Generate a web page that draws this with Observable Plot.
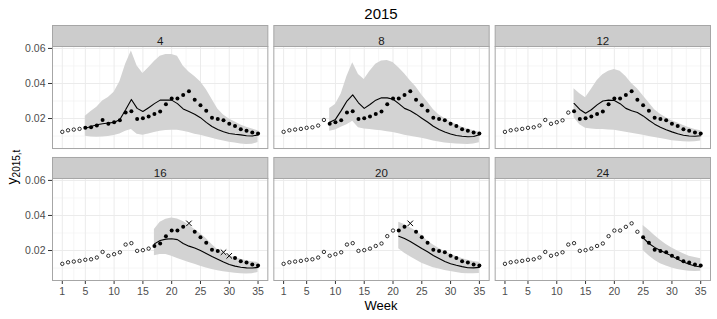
<!DOCTYPE html>
<html><head><meta charset="utf-8">
<script src="https://cdn.jsdelivr.net/npm/d3@7"></script>
<script src="https://cdn.jsdelivr.net/npm/@observablehq/plot@0.6"></script>
<style>
body{margin:0;background:#fff;font-family:"Liberation Sans",Arial,sans-serif;}
#title{height:24px;width:717px;box-sizing:border-box;padding-left:52px;padding-right:7px;text-align:center;font-size:15px;line-height:27px;color:#000;overflow:visible}
#chart svg{display:block}
</style></head><body>
<div id="title">2015</div>
<div id="chart"></div>
<script>
// ---- data ----
const weeks = [1,2,3,4,5,6,7,8,9,10,11,12,13,14,15,16,17,18,19,20,21,22,23,24,25,26,27,28,29,30,31,32,33,34,35];
const facetWeeks = [4,8,12,16,20,24];
const observed = [0.0124,0.0133,0.0137,0.0141,0.0147,0.0150,0.0160,0.0192,0.0170,0.0179,0.0190,0.0234,0.0242,0.0198,0.0202,0.0211,0.0226,0.0240,0.0282,0.0314,0.0314,0.0335,0.0355,0.0307,0.0276,0.0244,0.0204,0.0198,0.0190,0.0170,0.0158,0.0139,0.0131,0.0120,0.0114];

// forecasts: weeks (facet week + 1) .. 35
const med04 = [0.0145,0.0155,0.0165,0.0170,0.0175,0.0178,0.0195,0.0250,0.0309,0.0258,0.0240,0.0262,0.0285,0.0305,0.0305,0.0305,0.0285,0.0255,0.0240,0.0225,0.0205,0.0178,0.0155,0.0138,0.0125,0.0115,0.0110,0.0107,0.0102,0.0100,0.0107];
const lo04  = [0.0099,0.0095,0.0093,0.0095,0.0098,0.0103,0.0112,0.0128,0.0137,0.0110,0.0104,0.0112,0.0120,0.0127,0.0132,0.0133,0.0133,0.0127,0.0120,0.0111,0.0104,0.0096,0.0088,0.0079,0.0072,0.0065,0.0060,0.0055,0.0052,0.0053,0.0063];
const hi04  = [0.0213,0.0240,0.0265,0.0300,0.0320,0.0350,0.0410,0.0510,0.0585,0.0500,0.0457,0.0490,0.0525,0.0555,0.0566,0.0566,0.0555,0.0500,0.0465,0.0440,0.0410,0.0365,0.0310,0.0255,0.0220,0.0198,0.0180,0.0163,0.0150,0.0140,0.0131];

const med08 = [0.0179,0.0195,0.0245,0.0300,0.0335,0.0290,0.0258,0.0280,0.0305,0.0318,0.0318,0.0310,0.0285,0.0258,0.0245,0.0225,0.0202,0.0180,0.0156,0.0138,0.0123,0.0112,0.0103,0.0099,0.0096,0.0098,0.0108];
const lo08  = [0.0128,0.0135,0.0150,0.0165,0.0185,0.0148,0.0140,0.0137,0.0133,0.0130,0.0125,0.0120,0.0113,0.0105,0.0099,0.0093,0.0087,0.0080,0.0072,0.0066,0.0061,0.0058,0.0055,0.0053,0.0052,0.0055,0.0062];
const hi08  = [0.0257,0.0280,0.0340,0.0440,0.0518,0.0451,0.0423,0.0470,0.0510,0.0528,0.0531,0.0520,0.0490,0.0455,0.0415,0.0380,0.0335,0.0295,0.0251,0.0220,0.0200,0.0182,0.0166,0.0150,0.0140,0.0130,0.0122];

const med12 = [0.0286,0.0252,0.0230,0.0250,0.0278,0.0300,0.0305,0.0303,0.0285,0.0258,0.0245,0.0235,0.0215,0.0190,0.0168,0.0150,0.0136,0.0124,0.0113,0.0105,0.0100,0.0099,0.0102];
const lo12  = [0.0205,0.0165,0.0145,0.0140,0.0138,0.0137,0.0135,0.0133,0.0128,0.0122,0.0116,0.0110,0.0104,0.0098,0.0092,0.0086,0.0080,0.0074,0.0070,0.0067,0.0066,0.0068,0.0072];
const hi12  = [0.0370,0.0342,0.0318,0.0365,0.0415,0.0450,0.0470,0.0480,0.0470,0.0440,0.0400,0.0370,0.0330,0.0290,0.0250,0.0225,0.0205,0.0188,0.0175,0.0160,0.0148,0.0138,0.0130];

const med16 = [0.0238,0.0257,0.0265,0.0267,0.0262,0.0240,0.0225,0.0214,0.0200,0.0183,0.0166,0.0150,0.0134,0.0120,0.0111,0.0105,0.0101,0.0100,0.0104];
const lo16  = [0.0170,0.0178,0.0178,0.0168,0.0155,0.0143,0.0132,0.0122,0.0110,0.0100,0.0092,0.0085,0.0079,0.0074,0.0070,0.0067,0.0066,0.0068,0.0075];
const hi16  = [0.0320,0.0362,0.0378,0.0385,0.0380,0.0365,0.0345,0.0320,0.0295,0.0268,0.0235,0.0205,0.0186,0.0168,0.0162,0.0150,0.0142,0.0136,0.0132];

const med20 = [0.0282,0.0268,0.0252,0.0232,0.0212,0.0193,0.0172,0.0155,0.0138,0.0125,0.0116,0.0108,0.0102,0.0101,0.0104];
const lo20  = [0.0210,0.0185,0.0165,0.0146,0.0128,0.0114,0.0102,0.0094,0.0086,0.0080,0.0074,0.0069,0.0067,0.0067,0.0069];
const hi20  = [0.0362,0.0348,0.0330,0.0312,0.0285,0.0255,0.0232,0.0212,0.0195,0.0180,0.0166,0.0155,0.0145,0.0138,0.0133];

const med24 = [0.0272,0.0240,0.0218,0.0200,0.0185,0.0168,0.0150,0.0135,0.0122,0.0112,0.0106];
const lo24  = [0.0200,0.0170,0.0145,0.0125,0.0112,0.0100,0.0092,0.0086,0.0082,0.0081,0.0082];
const hi24  = [0.0343,0.0315,0.0285,0.0258,0.0235,0.0215,0.0198,0.0182,0.0168,0.0160,0.0153];

// observed weeks that fall outside the forecast interval (drawn as x)
const outside16 = [23,29,30];
const outside20 = [23];

const xTicks = [1,5,10,15,20,25,30,35];
const xMinor = [3,7.5,12.5,17.5,22.5,27.5,32.5];
const yTicks = [0.02,0.04,0.06];
const yMinor = [0.01,0.03,0.05];

// ---- build tables ----
const forecasts = {4:[med04,lo04,hi04],8:[med08,lo08,hi08],12:[med12,lo12,hi12],16:[med16,lo16,hi16],20:[med20,lo20,hi20],24:[med24,lo24,hi24]};
const outside = {16:outside16, 20:outside20};
const obsRows = [], fcRows = [], strips = [];
facetWeeks.forEach((f, i) => {
  const col = i % 3, row = Math.floor(i / 3);
  strips.push({col, row, label: String(f)});
  weeks.forEach((w, j) => {
    const out = (outside[f] || []).includes(w);
    obsRows.push({col, row, week: w, value: observed[j], kind: w <= f ? "past" : (out ? "out" : "in")});
  });
  const [m, l, h] = forecasts[f];
  m.forEach((v, k) => fcRows.push({col, row, week: weeks[f + k], med: v, lo: l[k], hi: h[k]}));
});

const chart = Plot.plot({
  width: 717, height: 295,
  marginLeft: 52, marginRight: 7, marginTop: 22, marginBottom: 39,
  style: {fontFamily: '"Liberation Sans", Arial, sans-serif', fontSize: "10.5px", color: "#333", background: "white", overflow: "visible"},
  fx: {domain: [0,1,2], paddingInner: 0.0271, paddingOuter: 0, axis: null, round: false},
  fy: {domain: [0,1], paddingInner: 0.227, paddingOuter: 0, axis: null, round: false},
  x: {domain: [-0.7, 36.7], ticks: xTicks, tickSize: 4, tickPadding: 3, label: null},
  y: {domain: [0.0029, 0.0611], ticks: yTicks, tickFormat: d3.format(".2f"), tickSize: 4, tickPadding: 3, label: null},
  marks: [
    Plot.frame({fill: "#cccccc", stroke: "#a6a6a6", insetTop: -21, insetBottom: 102}),
    Plot.frame({fill: "white"}),
    Plot.ruleX(xMinor, {stroke: "#f2f2f2", strokeWidth: 0.7}),
    Plot.ruleY(yMinor, {stroke: "#f2f2f2", strokeWidth: 0.7}),
    Plot.ruleX(xTicks, {stroke: "#ebebeb", strokeWidth: 1}),
    Plot.ruleY(yTicks, {stroke: "#ebebeb", strokeWidth: 1}),
    Plot.areaY(fcRows, {fx: "col", fy: "row", x: "week", y1: "lo", y2: "hi", fill: "#d3d3d3"}),
    Plot.lineY(fcRows, {fx: "col", fy: "row", x: "week", y: "med", stroke: "black", strokeWidth: 1.1}),
    Plot.dot(obsRows.filter(d => d.kind === "past"), {fx: "col", fy: "row", x: "week", y: "value", r: 1.7, stroke: "black", fill: "white", strokeWidth: 0.8}),
    Plot.dot(obsRows.filter(d => d.kind === "in"), {fx: "col", fy: "row", x: "week", y: "value", r: 2, fill: "black", stroke: "none"}),
    Plot.dot(obsRows.filter(d => d.kind === "out"), {fx: "col", fy: "row", x: "week", y: "value", symbol: "times", r: 2.6, stroke: "black", strokeWidth: 1}),
    Plot.frame({stroke: "#a6a6a6"}),
    Plot.text(strips, {fx: "col", fy: "row", text: "label", frameAnchor: "top", dy: -10, fontSize: 11.5, fill: "#1a1a1a"})
  ]
});
document.getElementById("chart").appendChild(chart);

const svg = d3.select(chart);
svg.selectAll('[aria-label="x-axis tick label"] text, [aria-label="y-axis tick label"] text').attr("fill", "#4d4d4d");
svg.append("text").attr("x", 381).attr("y", 286).attr("text-anchor", "middle")
  .attr("font-size", 13).attr("fill", "#000").text("Week");
const yl = svg.append("text").attr("transform", "translate(17,143) rotate(-90)")
  .attr("text-anchor", "middle").attr("font-size", 14).attr("fill", "#000");
yl.append("tspan").text("y");
yl.append("tspan").attr("font-size", 10).attr("dy", 3).text("2015,t");
</script></body></html>
